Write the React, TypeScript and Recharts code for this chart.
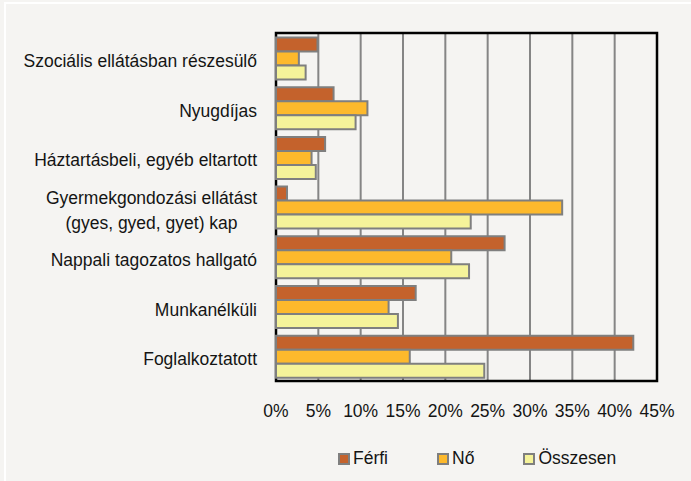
import { BarChart, Bar, XAxis, YAxis, CartesianGrid, Legend, ReferenceArea } from 'recharts'

const categories = [
  'Szociális ellátásban részesülő',
  'Nyugdíjas',
  'Háztartásbeli, egyéb eltartott',
  'Gyermekgondozási ellátást (gyes, gyed, gyet) kap',
  'Nappali tagozatos hallgató',
  'Munkanélküli',
  'Foglalkoztatott',
]
const ferfi = [4.9, 6.8, 5.8, 1.3, 27.0, 16.5, 42.2]
const no = [2.7, 10.8, 4.2, 33.8, 20.7, 13.3, 15.8]
const osszesen = [3.5, 9.4, 4.7, 23.0, 22.8, 14.4, 24.6]
const xTicks = [0, 5, 10, 15, 20, 25, 30, 35, 40, 45]

const series = [
  { key: 'ferfi', name: 'Férfi', color: '#c4622c' },
  { key: 'no', name: 'Nő', color: '#fdb92c' },
  { key: 'osszesen', name: 'Összesen', color: '#f5f39a' },
]

const data = categories.map((c, i) => ({ name: c, ferfi: ferfi[i], no: no[i], osszesen: osszesen[i] }))

const FONT = "'Liberation Sans', Arial, sans-serif"
const FS = 17.5

let ctx: CanvasRenderingContext2D | null = null
function measure(s: string) {
  if (!ctx) ctx = document.createElement('canvas').getContext('2d')
  if (!ctx) return s.length * FS * 0.5
  ctx.font = `${FS}px ${FONT}`
  return ctx.measureText(s).width
}

function wrap(s: string, maxW = 250) {
  const words = s.split(' ')
  const lines: string[] = []
  let cur = ''
  for (const w of words) {
    const next = cur ? cur + ' ' + w : w
    if (cur && measure(next) > maxW) {
      lines.push(cur)
      cur = w
    } else cur = next
  }
  if (cur) lines.push(cur)
  return lines
}

function CategoryTick({ x, y, payload }: any) {
  const lines = wrap(payload.value)
  const w = Math.max(...lines.map(measure))
  const cx = x - w / 2
  const lh = 25
  const y0 = y - ((lines.length - 1) * lh) / 2
  return (
    <g>
      {lines.map((l, i) => (
        <text key={i} x={cx} y={y0 + i * lh} dy="0.52em" textAnchor="middle" fontSize={FS} fontFamily={FONT} fill="#141414">
          {l}
        </text>
      ))}
    </g>
  )
}

function LegendContent() {
  return (
    <div style={{ display: 'flex', fontFamily: FONT, fontSize: FS, color: '#141414' }}>
      {series.map((s) => (
        <div key={s.key} style={{ display: 'flex', alignItems: 'center', marginRight: 49 }}>
          <span style={{ width: 8, height: 8, border: '2px solid #7f7f7f', background: s.color, marginRight: 3 }} />
          <span>{s.name}</span>
        </div>
      ))}
    </div>
  )
}

export default function App() {
  return (
    <div style={{ position: 'fixed', left: 0, top: 0, width: 691, height: 481, background: '#f5f4f2', overflow: 'hidden' }}>
      <div style={{ position: 'absolute', left: 4, top: 2, width: 800, height: 600, borderLeft: '2px solid #fff', borderTop: '2px solid #fff' }} />
      <BarChart
        width={691}
        height={481}
        data={data}
        layout="vertical"
        margin={{ top: 33, right: 34, bottom: 50, left: 0 }}
        barCategoryGap="9%"
        barGap={0}
      >
        <CartesianGrid horizontal={false} stroke="#858585" strokeWidth={2} />
        <XAxis
          type="number"
          domain={[0, 45]}
          ticks={xTicks}
          tickFormatter={(v) => `${v}%`}
          axisLine={false}
          tickLine={false}
          tickSize={0}
          tickMargin={24}
          interval={0}
          tick={{ fontSize: FS, fontFamily: FONT, fill: '#141414' }}
        />
        <YAxis
          type="category"
          dataKey="name"
          width={276}
          axisLine={false}
          tickLine={false}
          tickSize={0}
          tickMargin={19}
          interval={0}
          tick={<CategoryTick />}
        />
        {series.map((s) => (
          <Bar key={s.key} dataKey={s.key} name={s.name} fill={s.color} stroke="#7f7f7f" strokeWidth={2} isAnimationActive={false} />
        ))}
        <ReferenceArea x1={0} x2={45} fill="none" stroke="#000" strokeWidth={2.5} ifOverflow="visible" />
        <Legend content={<LegendContent />} wrapperStyle={{ left: 338, top: 448, width: 'auto', height: 20 }} />
      </BarChart>
    </div>
  )
}
